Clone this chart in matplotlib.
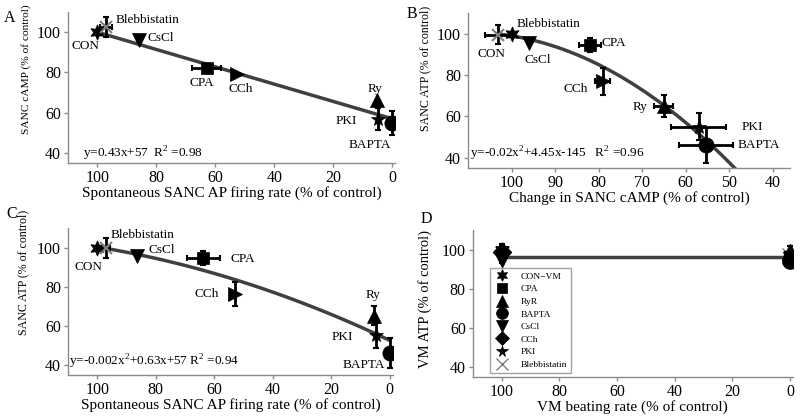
import numpy as np
import matplotlib
matplotlib.use("Agg")
import matplotlib.pyplot as plt
from matplotlib.lines import Line2D

plt.rcParams['font.family'] = ['Liberation Serif', 'DejaVu Serif']
plt.rcParams['mathtext.fontset'] = 'custom'
plt.rcParams['mathtext.rm'] = 'Liberation Serif'

# ---------------- data ----------------
treatments = ['CON', 'Blebbistatin', 'CsCl', 'CPA', 'CCh', 'Ry', 'PKI', 'BAPTA']

# Panel A: firing rate vs cAMP
a_rate = [100, 97, 86, 63, 52.5, 5.2, 4.8, 0.2]
a_rate_err = [0, 2, 0, 5, 0, 0, 0, 0]
a_camp = [100, 102.5, 96, 82, 79, 66.5, 57, 55]
a_camp_err = [0, 5, 0, 0, 0, 0, 5.5, 6]
a_fit = [0.43, 57]  # slope, intercept (from printed equation)

# Panel B: cAMP vs ATP
b_camp = [100, 103, 96, 82, 79, 65, 57, 55.4]
b_camp_err = [0, 3, 0, 2.5, 1.7, 2.2, 6.3, 6.2]
b_atp = [100, 99.5, 95.5, 94.5, 77, 65, 55, 46]
b_atp_err = [0, 4.5, 0, 3.5, 6.5, 5.3, 6.5, 8.5]

# Panel C: firing rate vs ATP
c_rate = [100, 97, 86.4, 63.7, 52.8, 5.4, 4.8, 0.1]
c_rate_err = [0, 1.5, 0, 5.7, 0, 0, 0, 0]
c_atp = [100, 100, 95.8, 94.9, 76.3, 65.3, 55.2, 46.2]
c_atp_err = [0, 5, 0, 3.5, 6.3, 4.7, 6.3, 7.6]

# Panel D: VM beating rate vs VM ATP
d_labels = ['CON\u2212VM', 'CPA', 'RyR', 'BAPTA', 'CsCl', 'CCh', 'PKI', 'Blebbistatin']
d_rate = [100, 0, 0, 0, 100, 100, 0, 0]
d_atp = [100, 96, 99, 94, 95, 99, 98, 97]
d_atp_err = [3, 3, 3, 3, 2, 3, 4, 3]
d_fit_level = 96

hexagram = (6, 1, 0)
mk = {'CON': hexagram, 'Blebbistatin': 'x', 'CsCl': 'v', 'CPA': 's',
      'CCh': '>', 'Ry': '^', 'PKI': '*', 'BAPTA': 'o'}
ms = {'CON': 11, 'Blebbistatin': 9, 'CsCl': 10, 'CPA': 8,
      'CCh': 10, 'Ry': 10, 'PKI': 11, 'BAPTA': 11}
d_mk = [hexagram, 's', '^', 'o', 'v', 'D', '*', 'x']

line_col = '#404040'
spine_col = '#8c8c8c'

fig = plt.figure(figsize=(8, 4.16), dpi=100)
axA = fig.add_axes([0.085, 0.608, 0.409, 0.363])
axB = fig.add_axes([0.585, 0.596, 0.4025, 0.373])
axC = fig.add_axes([0.085, 0.0986, 0.406, 0.353])
axD = fig.add_axes([0.591, 0.094, 0.400, 0.353])


def style(ax, xlim, xticks, ylabel, xlabel, ysize, ypos):
    ax.set_xlim(*xlim)
    ax.set_ylim(35, 110)
    ax.set_xticks(xticks)
    ax.set_yticks([40, 60, 80, 100])
    for s in ['top', 'right']:
        ax.spines[s].set_visible(False)
    for s in ['left', 'bottom']:
        ax.spines[s].set_color(spine_col)
        ax.spines[s].set_linewidth(1)
    ax.tick_params(axis='both', colors=spine_col, labelcolor='black',
                   labelsize=11.5, length=3, width=1, pad=2)
    ax.set_ylabel(ylabel, fontsize=ysize)
    ax.yaxis.label.set_va('center')
    ax.yaxis.set_label_coords(*ypos)
    ax.set_xlabel(xlabel, fontsize=11, labelpad=0)


def points(ax, xs, xe, ys, ye):
    for t, x, dx, y, dy in zip(treatments, xs, xe, ys, ye):
        col = '#7f7f7f' if t == 'Blebbistatin' else 'black'
        ax.errorbar(x, y, xerr=dx if dx else None, yerr=dy if dy else None,
                    fmt='none', ecolor='black', elinewidth=2, capsize=2,
                    capthick=1.5, zorder=3)
        ax.plot(x, y, marker=mk[t], ms=ms[t], color=col, mec=col,
                mew=1.5 if t == 'Blebbistatin' else 0.5, ls='none', zorder=4)


# ---- Panel A ----
style(axA, (110, -1), [100, 80, 60, 40, 20, 0], 'SANC cAMP (% of control)',
      'Spontaneous SANC AP firing rate (% of control)', 8.2, (-0.128, 0.6225))
xa = np.linspace(100, 0, 50)
axA.plot(xa, np.polyval(a_fit, xa), color=line_col, lw=2.5, zorder=2)
points(axA, a_rate, a_rate_err, a_camp, a_camp_err)
fs = 9.5
axA.text(104, 93, 'CON', fontsize=fs, ha='center', va='center')
axA.text(94, 106, 'Blebbistatin', fontsize=fs, ha='left', va='center')
axA.text(83, 97, 'CsCl', fontsize=fs, ha='left', va='center')
axA.text(64.5, 75, 'CPA', fontsize=fs, ha='center', va='center')
axA.text(51.5, 72, 'CCh', fontsize=fs, ha='center', va='center')
axA.text(6, 72, 'Ry', fontsize=fs, ha='center', va='center')
axA.text(15.5, 56, 'PKI', fontsize=fs, ha='center', va='center')
axA.text(7.5, 44, 'BAPTA', fontsize=fs, ha='center', va='center')
axA.text(105, 39.5, 'y=0.43x+57  R$^2$ =0.98', fontsize=9.5, ha='left', va='center')

# ---- Panel B ----
style(axB, (110, 36), [100, 90, 80, 70, 60, 50, 40], 'SANC ATP (% of control)',
      'Change in SANC cAMP (% of control)', 8.6, (-0.134, 0.642))
b_coef = np.polyfit(b_camp, b_atp, 2)
xb = np.linspace(103, 48.3, 80)
axB.plot(xb, np.polyval(b_coef, xb), color=line_col, lw=2.5, zorder=2)
points(axB, b_camp, b_camp_err, b_atp, b_atp_err)
axB.text(104.7, 90, 'CON', fontsize=fs, ha='center', va='center')
axB.text(98.8, 104.5, 'Blebbistatin', fontsize=fs, ha='left', va='center')
axB.text(94, 87.3, 'CsCl', fontsize=fs, ha='center', va='center')
axB.text(79.4, 95.6, 'CPA', fontsize=fs, ha='left', va='center')
axB.text(85.3, 73.4, 'CCh', fontsize=fs, ha='center', va='center')
axB.text(70.5, 64.3, 'Ry', fontsize=fs, ha='center', va='center')
axB.text(44.7, 54.9, 'PKI', fontsize=fs, ha='center', va='center')
axB.text(43.1, 46.2, 'BAPTA', fontsize=fs, ha='center', va='center')
axB.text(109.5, 41.7, 'y=-0.02x$^2$+4.45x-145   R$^2$ =0.96', fontsize=9.5,
         ha='left', va='center')

# ---- Panel C ----
style(axC, (110, -1), [100, 80, 60, 40, 20, 0], 'SANC ATP (% of control)',
      'Spontaneous SANC AP firing rate (% of control)', 8.6, (-0.137, 0.70))
c_coef = np.polyfit(c_rate, c_atp, 2)
xc = np.linspace(100, 0, 80)
axC.plot(xc, np.polyval(c_coef, xc), color=line_col, lw=2.5, zorder=2)
points(axC, c_rate, c_rate_err, c_atp, c_atp_err)
axC.text(102.9, 90.4, 'CON', fontsize=fs, ha='center', va='center')
axC.text(95.6, 106.3, 'Blebbistatin', fontsize=fs, ha='left', va='center')
axC.text(82.6, 98.7, 'CsCl', fontsize=fs, ha='left', va='center')
axC.text(54.4, 94, 'CPA', fontsize=fs, ha='left', va='center')
axC.text(62.5, 76.3, 'CCh', fontsize=fs, ha='center', va='center')
axC.text(5.7, 75.8, 'Ry', fontsize=fs, ha='center', va='center')
axC.text(16.2, 54.3, 'PKI', fontsize=fs, ha='center', va='center')
axC.text(8.9, 40, 'BAPTA', fontsize=fs, ha='center', va='center')
axC.text(109.7, 41.6, 'y=-0.002x$^2$+0.63x+57 R$^2$ =0.94', fontsize=9.5,
         ha='left', va='center')

# ---- Panel D ----
style(axD, (110, -1), [100, 80, 60, 40, 20, 0], 'VM ATP (% of control)',
      'VM beating rate (% of control)', 10.5, (-0.148, 0.53))
axD.plot([100, 0], [d_fit_level, d_fit_level], color=line_col, lw=2.5, zorder=2)
handles = []
for lab, x, y, dy, m in zip(d_labels, d_rate, d_atp, d_atp_err, d_mk):
    grey = lab == 'Blebbistatin'
    col = '#7f7f7f' if grey else 'black'
    axD.errorbar(x, y, yerr=dy, fmt='none', ecolor='black', elinewidth=2,
                 capsize=2, capthick=1.5, zorder=3)
    sz = 9 if m in ('s', 'D') else 11
    axD.plot(x, y, marker=m, ms=sz, color=col, ls='none', zorder=2.5 if grey else 4)
    hs = 7 if m in ('s', 'D') else 8.5
    handles.append(Line2D([], [], marker=m, ms=hs, color=col, ls='none',
                          mew=1 if grey else 0.5, label=lab))
leg = axD.legend(handles=handles, loc='upper left', bbox_to_anchor=(0.053, 0.742),
                 fontsize=6.8, frameon=True, fancybox=False, edgecolor=spine_col,
                 borderpad=0.45, labelspacing=0.42, handletextpad=1.2,
                 handlelength=1.6, borderaxespad=0)
leg.get_frame().set_linewidth(1)

# panel letters
fig.text(0.005, 0.975, 'A', fontsize=11.5, va='top', ha='left')
fig.text(0.508, 0.985, 'B', fontsize=11.5, va='top', ha='left')
fig.text(0.008, 0.505, 'C', fontsize=11.5, va='top', ha='left')
fig.text(0.526, 0.492, 'D', fontsize=11.5, va='top', ha='left')

fig.savefig('out.png', dpi=100)
